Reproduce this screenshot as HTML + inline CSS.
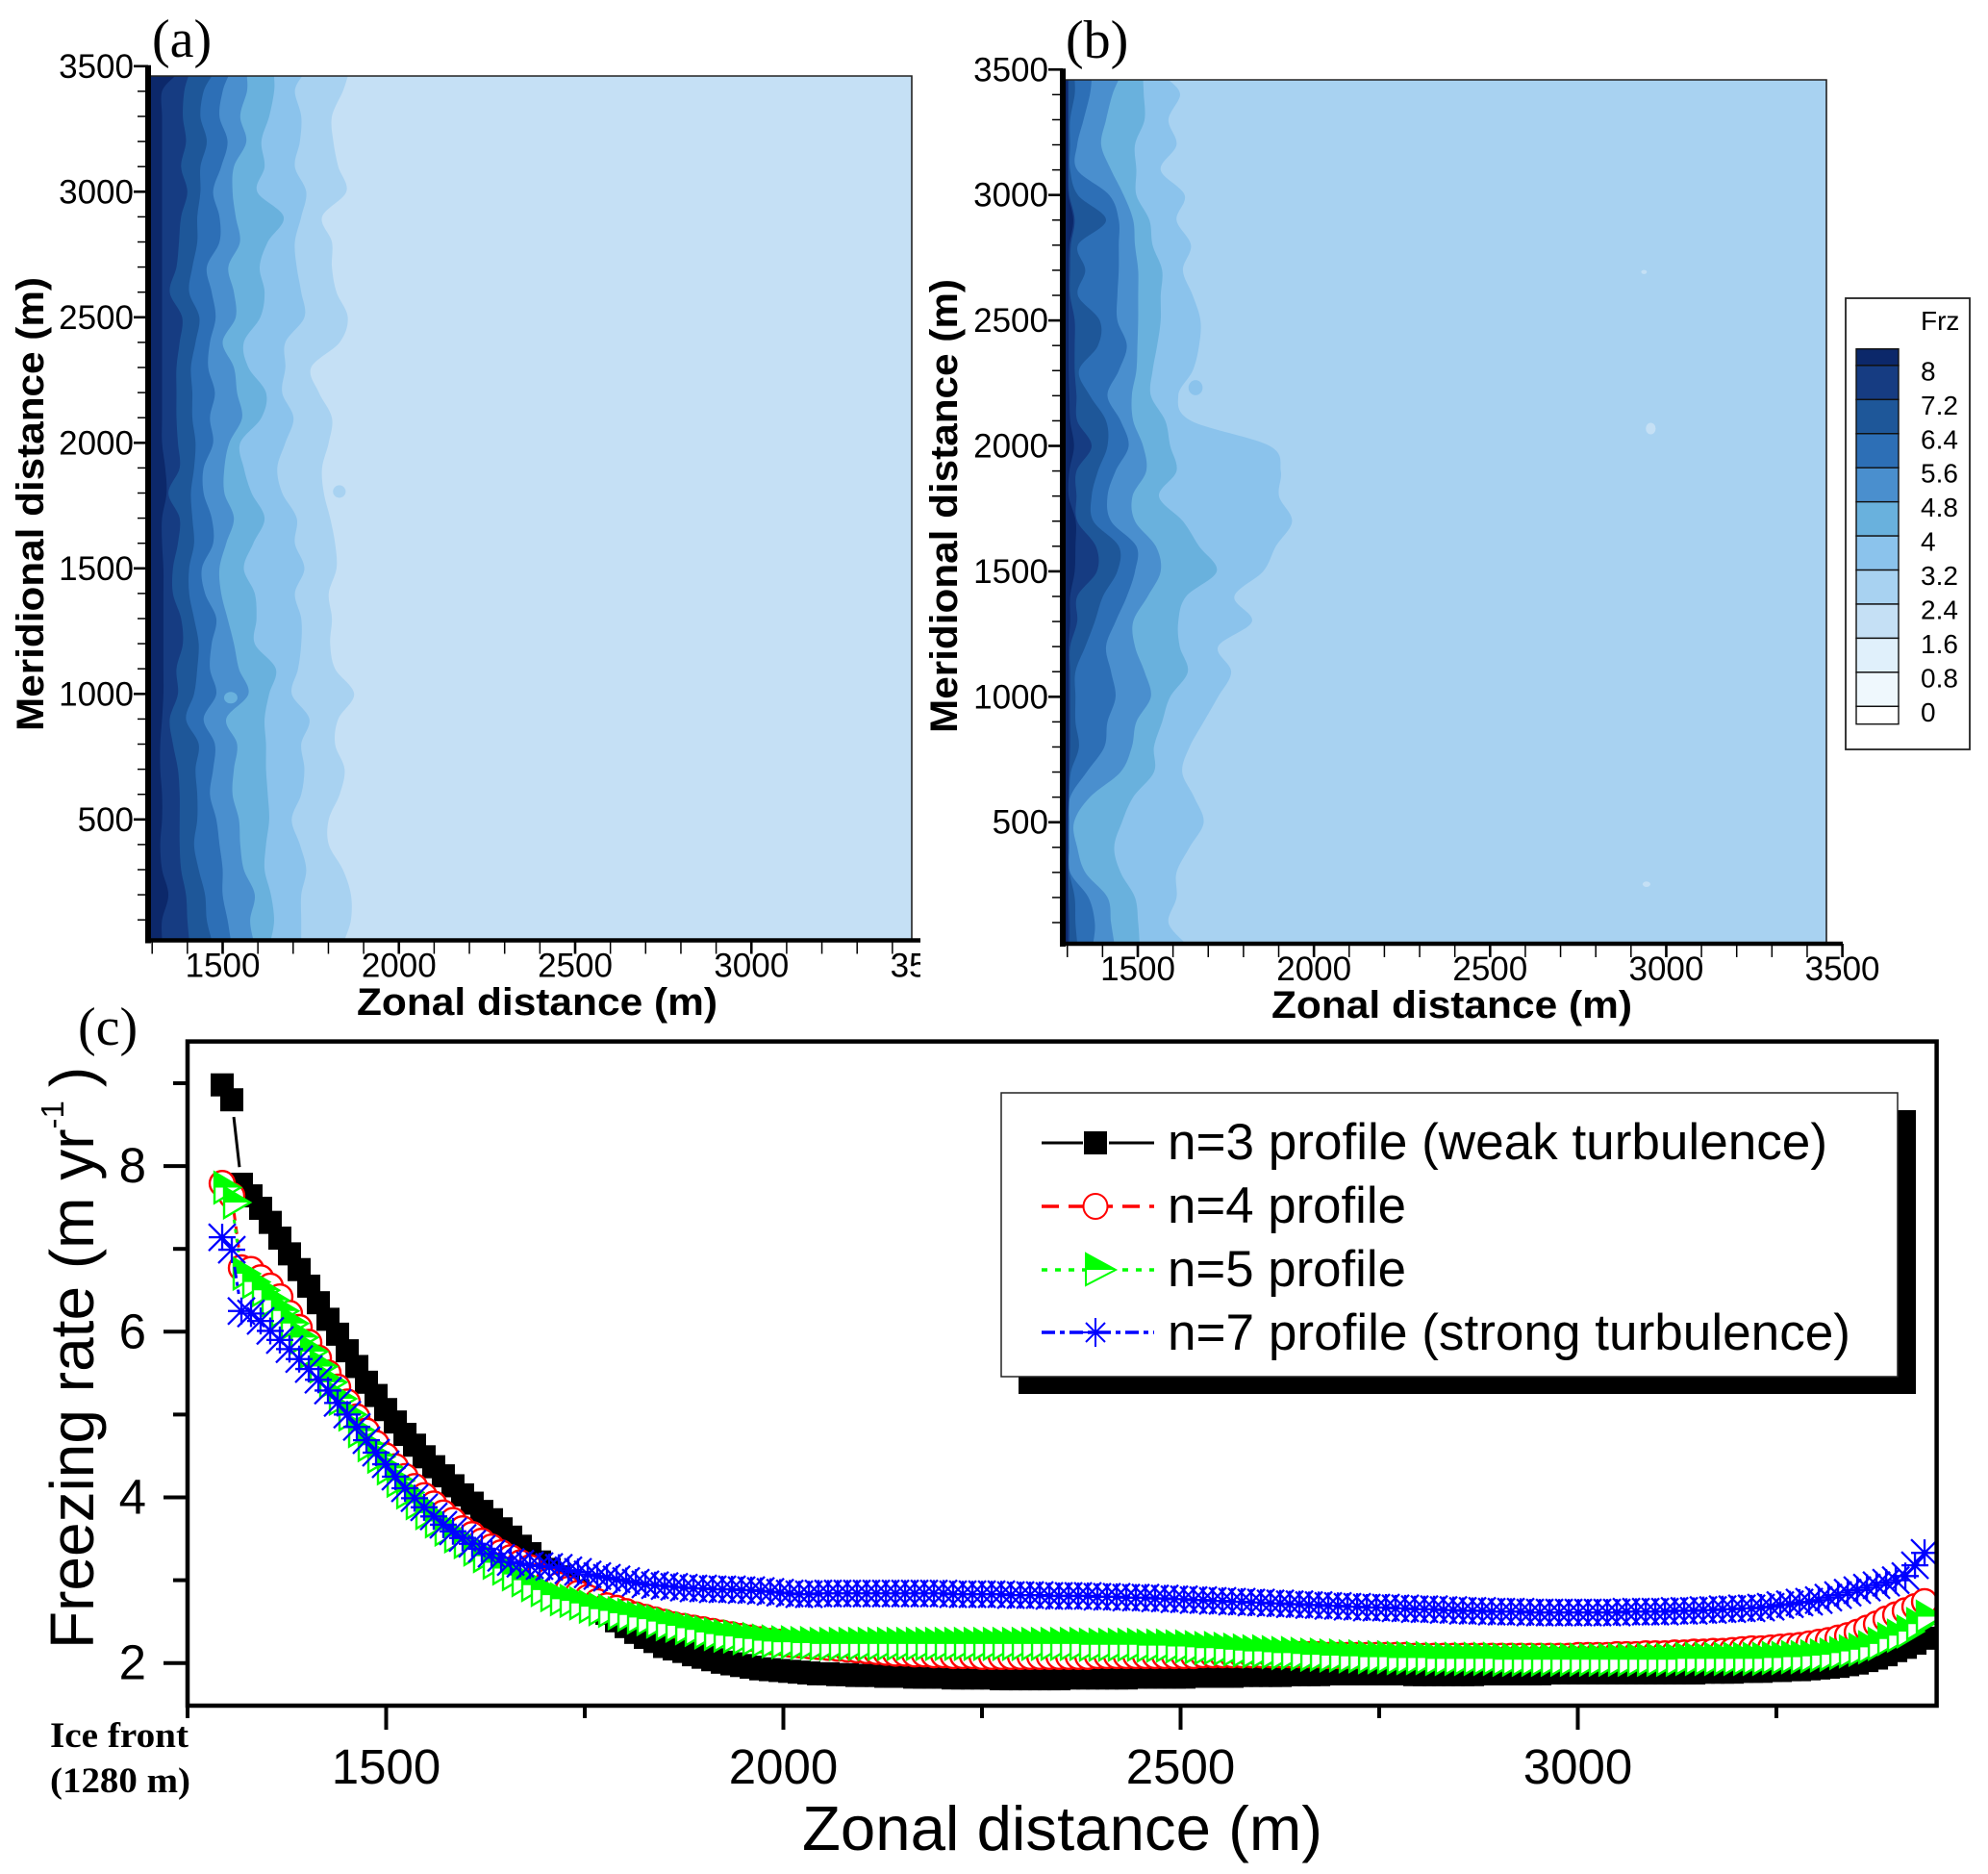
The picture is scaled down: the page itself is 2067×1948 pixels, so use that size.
<!DOCTYPE html>
<html lang="en">
<head>
<meta charset="utf-8">
<title>Freezing rate contours and profiles</title>
<style>
html,body{margin:0;padding:0;background:#fff;}
svg{display:block;}
text{font-family:"Liberation Sans",sans-serif;fill:#000;}
.serif{font-family:"Liberation Serif",serif;}
.ttl{font-weight:bold;font-size:40px;}
</style>
</head>
<body>
<svg id="fig" xmlns="http://www.w3.org/2000/svg" width="2067" height="1948" viewBox="0 0 2067 1948">
  <defs>
    <clipPath id="clipA"><rect x="154" y="79" width="794" height="899"/></clipPath>
    <clipPath id="clipB"><rect x="1105" y="83" width="794" height="898"/></clipPath>
    <clipPath id="clipLabelA"><rect x="130" y="980" width="827" height="50"/></clipPath>
    <clipPath id="clipC"><rect x="195" y="1082" width="1817" height="690"/></clipPath>
  </defs>
  <rect x="0" y="0" width="2067" height="1948" fill="#fff"/>

  <g id="panelA"></g>
  <text class="serif" x="158" y="59" font-size="56">(a)</text>
  <text class="ttl" transform="translate(45,760) rotate(-90)" textLength="472" lengthAdjust="spacingAndGlyphs">Meridional distance (m)</text>
  <text class="ttl" x="371" y="1055" textLength="375" lengthAdjust="spacingAndGlyphs">Zonal distance (m)</text>

  <g id="panelB"></g>
  <text class="serif" x="1108" y="60" font-size="56">(b)</text>
  <text class="ttl" transform="translate(995,762) rotate(-90)" textLength="472" lengthAdjust="spacingAndGlyphs">Meridional distance (m)</text>
  <text class="ttl" x="1322" y="1058" textLength="375" lengthAdjust="spacingAndGlyphs">Zonal distance (m)</text>

  <g>
    <rect x="1919" y="310" width="129" height="469" fill="#fff" stroke="#222" stroke-width="1.8"/>
    <text x="1997" y="343" font-size="28">Frz</text>
    <g id="colorbar"></g>
  </g>

  <text class="serif" x="81" y="1086" font-size="56">(c)</text>
  <g id="panelC"></g>
  <text transform="translate(97,1714) rotate(-90)" font-size="64">Freezing rate (m yr<tspan font-size="33" dy="-31">-1</tspan><tspan dy="31" dx="14">)</tspan></text>
  <text x="834" y="1923" font-size="65" textLength="541" lengthAdjust="spacingAndGlyphs">Zonal distance (m)</text>
  <text class="serif" x="52" y="1816" font-size="37" font-weight="bold" textLength="144" lengthAdjust="spacingAndGlyphs">Ice front</text>
  <text class="serif" x="52" y="1863" font-size="37" font-weight="bold" textLength="146" lengthAdjust="spacingAndGlyphs">(1280 m)</text>

  <g>
    <rect x="1059" y="1154" width="933" height="295" fill="#000"/>
    <rect x="1041" y="1136" width="932" height="295" fill="#fff" stroke="#222" stroke-width="1.5"/>
    <g>
      <line x1="1083" y1="1188" x2="1126" y2="1188" stroke="#000" stroke-width="3"/>
      <line x1="1153" y1="1188" x2="1200" y2="1188" stroke="#000" stroke-width="3"/>
      <rect x="1127" y="1176" width="24" height="24" fill="#000"/>
      <text x="1214" y="1205" font-size="53" textLength="686" lengthAdjust="spacingAndGlyphs">n=3 profile (weak turbulence)</text>
    </g>
    <g>
      <line x1="1083" y1="1254" x2="1200" y2="1254" stroke="#f00" stroke-width="3.5" stroke-dasharray="18 10"/>
      <ellipse cx="1139" cy="1254" rx="12.5" ry="13" fill="#fff" stroke="#f00" stroke-width="2"/>
      <text x="1214" y="1271" font-size="53" textLength="248" lengthAdjust="spacingAndGlyphs">n=4 profile</text>
    </g>
    <g>
      <line x1="1083" y1="1320" x2="1200" y2="1320" stroke="#0f0" stroke-width="3.5" stroke-dasharray="6 8"/>
      <polygon points="1129,1303 1160,1320 1129,1336" fill="#fff" stroke="#0f0" stroke-width="2"/>
      <polygon points="1129,1303 1160,1320 1129,1320" fill="#0f0"/>
      <text x="1214" y="1337" font-size="53" textLength="248" lengthAdjust="spacingAndGlyphs">n=5 profile</text>
    </g>
    <g>
      <line x1="1083" y1="1385" x2="1200" y2="1385" stroke="#00f" stroke-width="3.5" stroke-dasharray="14 5 5 5"/>
      <path d="M1139 1370V1400M1124 1385H1154M1129 1375L1149 1395M1129 1395L1149 1375" fill="none" stroke="#00f" stroke-width="2"/>
      <text x="1214" y="1403" font-size="53" textLength="710" lengthAdjust="spacingAndGlyphs">n=7 profile (strong turbulence)</text>
    </g>
  </g>
</svg>

<script>
/* ---------- Contour panels: data ---------- */
const meridionalRows = [3460,3400,3300,3200,3100,3000,2900,2800,2700,2600,2500,2400,2300,2200,2100,2000,1900,1800,1700,1600,1500,1400,1300,1200,1100,1000,900,800,700,600,500,400,300,200,100,20];
const bandColors = ['#0c286a','#163c82','#1e5799','#2d6fb6','#4a8fce','#69b1dd','#8bc3ec','#a8d2f1','#c5e0f5','#e0f0fb','#eff8fd','#ffffff'];

/* zonal position (m) of each contour (8, 7.2, 6.4, 5.6, 4.8, 4, 3.2, 2.4 levels) per row */
const panelAContours = [
[1364,1403,1469,1516,1569,1646,1725,1855],
[1328,1391,1446,1500,1569,1646,1705,1841],
[1328,1387,1437,1491,1550,1632,1723,1810],
[1328,1396,1455,1514,1567,1610,1719,1814],
[1328,1382,1437,1496,1532,1619,1705,1828],
[1328,1400,1437,1473,1528,1598,1737,1851],
[1328,1382,1428,1491,1537,1673,1723,1782],
[1328,1376,1428,1491,1549,1628,1705,1810],
[1328,1369,1414,1455,1516,1605,1710,1810],
[1328,1350,1405,1469,1532,1619,1723,1823],
[1328,1385,1434,1480,1537,1607,1732,1855],
[1328,1378,1423,1464,1500,1560,1678,1832],
[1328,1369,1410,1459,1532,1573,1678,1751],
[1328,1369,1414,1478,1541,1623,1669,1773],
[1328,1369,1414,1464,1555,1610,1701,1810],
[1328,1373,1423,1473,1519,1550,1678,1801],
[1337,1378,1419,1446,1505,1560,1655,1782],
[1341,1346,1410,1446,1505,1582,1669,1787],
[1328,1378,1414,1469,1532,1619,1710,1805],
[1328,1373,1419,1473,1510,1587,1705,1819],
[1332,1359,1405,1441,1491,1560,1732,1823],
[1332,1359,1405,1450,1496,1591,1705,1801],
[1332,1382,1419,1482,1514,1596,1723,1810],
[1332,1387,1432,1469,1532,1591,1723,1805],
[1332,1369,1428,1464,1546,1651,1714,1819],
[1332,1373,1419,1482,1573,1632,1696,1873],
[1328,1350,1396,1446,1510,1619,1746,1828],
[1323,1359,1432,1478,1541,1623,1723,1819],
[1323,1373,1423,1473,1532,1623,1732,1846],
[1328,1378,1428,1464,1528,1628,1723,1832],
[1328,1378,1428,1482,1546,1632,1696,1801],
[1323,1378,1419,1491,1550,1623,1719,1801],
[1328,1382,1432,1500,1560,1619,1737,1841],
[1346,1396,1450,1500,1591,1637,1723,1864],
[1328,1400,1455,1514,1578,1646,1723,1864],
[1328,1405,1469,1523,1587,1637,1723,1846]
];
/* zonal position (m) of each contour (8 ... 3.2 levels) per row */
const panelBContours = [
[1301,1304,1321,1369,1446,1515,1587],
[1301,1304,1321,1364,1428,1517,1620],
[1301,1304,1308,1346,1410,1519,1587],
[1301,1304,1308,1328,1396,1492,1610],
[1301,1304,1308,1328,1424,1496,1565],
[1303,1306,1330,1419,1460,1496,1633],
[1317,1321,1410,1446,1487,1533,1610],
[1306,1310,1330,1446,1492,1542,1651],
[1304,1308,1351,1446,1501,1569,1628],
[1304,1308,1330,1442,1501,1565,1656],
[1304,1321,1392,1442,1501,1565,1678],
[1304,1321,1387,1469,1499,1555,1674],
[1304,1321,1333,1446,1496,1542,1656],
[1306,1326,1364,1414,1483,1537,1615],
[1308,1328,1410,1451,1487,1578,1651],
[1319,1369,1414,1474,1515,1592,1874],
[1306,1326,1387,1437,1524,1610,1906],
[1304,1326,1369,1414,1485,1560,1901],
[1324,1328,1374,1424,1492,1628,1938],
[1323,1381,1446,1496,1551,1674,1892],
[1321,1384,1442,1492,1565,1724,1856],
[1308,1328,1401,1469,1528,1637,1774],
[1308,1328,1378,1437,1487,1615,1824],
[1304,1308,1351,1410,1492,1619,1728],
[1304,1308,1323,1424,1519,1642,1765],
[1304,1308,1323,1437,1537,1592,1728],
[1304,1308,1323,1414,1496,1569,1687],
[1304,1308,1333,1405,1483,1546,1647],
[1304,1306,1310,1355,1451,1546,1626],
[1303,1304,1306,1308,1364,1487,1660],
[1301,1303,1304,1306,1319,1455,1687],
[1301,1303,1304,1306,1328,1433,1647],
[1301,1303,1306,1308,1351,1451,1610],
[1301,1304,1321,1360,1414,1492,1610],
[1301,1306,1323,1378,1424,1501,1587],
[1301,1306,1328,1374,1433,1505,1633]
];
const panelBEdgeMeridional = [3300,3200,2800,2400,2000,1500,1000,500,100];
const panelBEdgeZonal = [3490,3484,3470,3462,3460,3472,3484,3484,3490];
/* isolated patches: zonal, meridional, half-width m, half-height m, colour index */
const panelAPatches = [[1831,1806,18,25,7],[1523,985,19,23,5]];
const panelBPatches = [[2956,2069,14,23,8],[2944,253,11,11,8],[2937,2693,8,8,8],[1710,2247,14,19,7],[1664,2232,20,30,6]];
const meridionalTickLabels = [3500,3000,2500,2000,1500,1000,500];
const panelZonalTickLabels = [1500,2000,2500,3000,3500];

/* ---------- Colour bar: data ---------- */
const frzLevels = [8,7.2,6.4,5.6,4.8,4,3.2,2.4,1.6,0.8,0];

/* ---------- Panel (c): data ---------- */
const zonalDistance = [
1293.6,1305.7,1317.8,1329.9,1342.0,1354.1,1366.2,1378.3,1390.5,1402.6,
1414.7,1426.8,1438.9,1451.0,1463.1,1475.2,1487.3,1499.4,1511.6,1523.7,
1535.7,1547.8,1559.9,1572.0,1584.1,1596.2,1608.3,1620.4,1632.6,1644.7,
1656.8,1668.9,1681.0,1693.1,1705.2,1717.3,1729.4,1741.5,1753.7,1765.8,
1777.9,1790.0,1802.1,1814.2,1826.3,1838.4,1850.5,1862.6,1874.8,1886.9,
1899.0,1911.1,1923.2,1935.3,1947.4,1959.5,1971.6,1983.7,1995.9,2008.0,
2020.0,2032.1,2044.2,2056.3,2068.4,2080.5,2092.6,2104.7,2116.9,2129.0,
2141.1,2153.2,2165.3,2177.4,2189.5,2201.6,2213.7,2225.8,2238.0,2250.1,
2262.2,2274.3,2286.4,2298.5,2310.6,2322.7,2334.8,2346.9,2359.1,2371.2,
2383.2,2395.3,2407.4,2419.5,2431.6,2443.7,2455.8,2467.9,2480.1,2492.2,
2504.3,2516.4,2528.5,2540.6,2552.7,2564.8,2576.9,2589.0,2601.2,2613.3,
2625.4,2637.5,2649.6,2661.7,2673.8,2685.9,2698.0,2710.1,2722.3,2734.4,
2746.4,2758.5,2770.6,2782.7,2794.8,2806.9,2819.0,2831.1,2843.3,2855.4,
2867.5,2879.6,2891.7,2903.8,2915.9,2928.0,2940.1,2952.2,2964.4,2976.5,
2988.6,3000.7,3012.8,3024.9,3037.0,3049.1,3061.2,3073.3,3085.5,3097.6,
3109.7,3121.8,3133.9,3146.0,3158.1,3170.2,3182.3,3194.4,3206.6,3218.7,
3230.7,3242.8,3254.9,3267.0,3279.1,3291.2,3303.3,3315.4,3327.6,3339.7,
3351.8,3363.9,3376.0,3388.1,3400.2,3412.3,3424.4,3436.5];
const freezingN3 = [
8.98,8.80,7.78,7.64,7.49,7.32,7.13,6.94,6.75,6.55,
6.35,6.15,5.97,5.77,5.58,5.39,5.23,5.06,4.91,4.76,
4.63,4.49,4.37,4.26,4.14,4.03,3.93,3.83,3.73,3.62,
3.52,3.41,3.32,3.22,3.13,3.04,2.96,2.87,2.79,2.71,
2.60,2.51,2.44,2.37,2.31,2.26,2.20,2.17,2.14,2.10,
2.07,2.04,2.01,1.99,1.97,1.95,1.93,1.92,1.91,1.90,
1.89,1.88,1.87,1.87,1.86,1.86,1.85,1.85,1.85,1.84,
1.84,1.84,1.83,1.83,1.83,1.83,1.82,1.82,1.82,1.82,
1.82,1.81,1.81,1.81,1.81,1.81,1.81,1.81,1.82,1.82,
1.82,1.82,1.82,1.82,1.82,1.83,1.83,1.83,1.83,1.83,
1.83,1.84,1.84,1.84,1.84,1.84,1.85,1.85,1.85,1.85,
1.85,1.86,1.86,1.86,1.86,1.87,1.87,1.87,1.87,1.87,
1.87,1.87,1.87,1.87,1.86,1.86,1.86,1.86,1.86,1.86,
1.86,1.87,1.87,1.87,1.87,1.87,1.87,1.87,1.88,1.88,
1.88,1.88,1.88,1.88,1.88,1.88,1.88,1.88,1.88,1.88,
1.88,1.88,1.88,1.88,1.89,1.89,1.89,1.89,1.90,1.90,
1.90,1.91,1.91,1.92,1.92,1.93,1.94,1.95,1.96,1.98,
2.00,2.03,2.06,2.10,2.15,2.19,2.24,2.30];
const freezingN4 = [
7.79,7.64,6.77,6.75,6.65,6.55,6.42,6.22,6.05,5.87,
5.68,5.50,5.33,5.15,4.97,4.80,4.65,4.50,4.37,4.25,
4.13,4.02,3.92,3.81,3.72,3.62,3.55,3.47,3.40,3.33,
3.27,3.21,3.15,3.05,3.00,2.94,2.89,2.84,2.79,2.74,
2.69,2.66,2.62,2.58,2.55,2.52,2.49,2.46,2.44,2.42,
2.40,2.38,2.36,2.34,2.32,2.30,2.28,2.26,2.25,2.23,
2.22,2.21,2.20,2.19,2.18,2.17,2.16,2.15,2.14,2.13,
2.12,2.12,2.11,2.11,2.10,2.10,2.09,2.09,2.09,2.08,
2.08,2.08,2.08,2.08,2.08,2.08,2.08,2.08,2.08,2.08,
2.08,2.09,2.09,2.09,2.09,2.09,2.09,2.09,2.09,2.09,
2.09,2.09,2.10,2.10,2.10,2.10,2.10,2.10,2.10,2.10,
2.10,2.10,2.10,2.10,2.10,2.09,2.09,2.09,2.09,2.09,
2.09,2.09,2.09,2.09,2.08,2.08,2.08,2.08,2.08,2.08,
2.08,2.08,2.08,2.08,2.08,2.08,2.08,2.08,2.08,2.08,
2.08,2.09,2.09,2.09,2.09,2.10,2.10,2.10,2.11,2.11,
2.11,2.12,2.12,2.13,2.13,2.14,2.14,2.15,2.16,2.17,
2.17,2.18,2.19,2.20,2.21,2.23,2.25,2.27,2.30,2.33,
2.37,2.42,2.47,2.53,2.58,2.63,2.68,2.74];
const freezingN5 = [
7.74,7.56,6.70,6.60,6.50,6.38,6.25,6.10,5.93,5.76,
5.58,5.39,5.19,5.00,4.80,4.63,4.49,4.35,4.20,4.06,
3.93,3.81,3.71,3.61,3.53,3.46,3.37,3.29,3.21,3.14,
3.07,3.00,2.94,2.88,2.82,2.77,2.75,2.72,2.68,2.65,
2.63,2.60,2.58,2.55,2.53,2.50,2.47,2.45,2.42,2.40,
2.37,2.35,2.33,2.32,2.30,2.29,2.27,2.26,2.25,2.25,
2.24,2.24,2.23,2.23,2.23,2.23,2.23,2.23,2.23,2.23,
2.23,2.23,2.23,2.23,2.23,2.23,2.23,2.23,2.23,2.23,
2.23,2.23,2.23,2.23,2.23,2.23,2.23,2.23,2.23,2.23,
2.22,2.22,2.22,2.22,2.22,2.22,2.21,2.21,2.21,2.20,
2.20,2.19,2.18,2.18,2.17,2.16,2.15,2.14,2.14,2.13,
2.12,2.12,2.11,2.10,2.10,2.09,2.09,2.08,2.08,2.07,
2.07,2.07,2.06,2.06,2.06,2.06,2.05,2.05,2.05,2.05,
2.05,2.05,2.05,2.04,2.04,2.04,2.04,2.04,2.04,2.04,
2.04,2.04,2.04,2.04,2.04,2.04,2.04,2.04,2.04,2.04,
2.04,2.04,2.05,2.05,2.05,2.05,2.05,2.05,2.05,2.05,
2.05,2.06,2.06,2.07,2.07,2.08,2.09,2.10,2.12,2.14,
2.16,2.19,2.23,2.29,2.33,2.38,2.47,2.56];
const freezingN7 = [
7.14,6.99,6.25,6.22,6.13,6.01,5.90,5.79,5.67,5.55,
5.42,5.29,5.14,5.00,4.85,4.69,4.54,4.40,4.25,4.11,
3.99,3.88,3.77,3.67,3.59,3.51,3.44,3.38,3.32,3.27,
3.22,3.20,3.18,3.17,3.16,3.15,3.12,3.10,3.07,3.05,
3.03,3.01,2.99,2.97,2.95,2.94,2.93,2.92,2.91,2.90,
2.90,2.89,2.89,2.89,2.88,2.88,2.87,2.86,2.85,2.84,
2.83,2.83,2.84,2.84,2.84,2.84,2.84,2.84,2.84,2.84,
2.84,2.84,2.84,2.84,2.84,2.84,2.83,2.83,2.83,2.83,
2.83,2.83,2.82,2.82,2.82,2.82,2.81,2.81,2.81,2.81,
2.81,2.80,2.80,2.80,2.79,2.79,2.79,2.78,2.78,2.77,
2.77,2.76,2.76,2.75,2.75,2.74,2.74,2.73,2.73,2.72,
2.72,2.71,2.71,2.70,2.70,2.69,2.69,2.68,2.68,2.67,
2.67,2.67,2.66,2.66,2.65,2.65,2.65,2.64,2.64,2.63,
2.63,2.63,2.62,2.62,2.62,2.62,2.61,2.61,2.61,2.61,
2.61,2.61,2.61,2.61,2.61,2.61,2.62,2.62,2.62,2.62,
2.62,2.63,2.63,2.63,2.64,2.64,2.65,2.65,2.66,2.66,
2.67,2.68,2.70,2.71,2.73,2.74,2.76,2.79,2.82,2.85,
2.88,2.91,2.94,2.97,3.00,3.05,3.18,3.33];
const freezingMajorTicks = [2,4,6,8];
const freezingMinorTicks = [3,5,7,9];
const zonalMajorTicks = [1500,2000,2500,3000];
const zonalMinorTicks = [1250,1750,2250,2750,3250];

/* ---------- Helpers ---------- */
const NS = 'http://www.w3.org/2000/svg';
function make(tag, attrs, parent) {
  const el = document.createElementNS(NS, tag);
  for (const k in attrs) el.setAttribute(k, attrs[k]);
  parent.appendChild(el);
  return el;
}
function smoothCurve(pts) {
  let d = '';
  for (let i = 0; i < pts.length - 1; i++) {
    const p0 = pts[Math.max(i - 1, 0)], p1 = pts[i], p2 = pts[i + 1], p3 = pts[Math.min(i + 2, pts.length - 1)];
    d += 'C' + (p1[0] + (p2[0] - p0[0]) / 6).toFixed(1) + ' ' + (p1[1] + (p2[1] - p0[1]) / 6).toFixed(1) + ' ' +
         (p2[0] - (p3[0] - p1[0]) / 6).toFixed(1) + ' ' + (p2[1] - (p3[1] - p1[1]) / 6).toFixed(1) + ' ' +
         p2[0].toFixed(1) + ' ' + p2[1].toFixed(1);
  }
  return d;
}

/* ---------- Contour panel renderer ---------- */
function drawPanel(g, cfg) {
  const xOf = cfg.xOf, yOf = cfg.yOf;
  const field = make('g', {'clip-path': 'url(#' + cfg.clip + ')'}, g);
  
  

  const base = make('rect', {x: cfg.left, y: cfg.top, width: cfg.right - cfg.left, height: cfg.bottom - cfg.top, fill: bandColors[cfg.contours[0].length]}, field);
  
  

  if (cfg.edgeM) {
    const pts = [[cfg.right, yOf(cfg.edgeM[0])]];
    cfg.edgeM.forEach(function (m, i) { pts.push([xOf(cfg.edgeZ[i]), yOf(m)]); });
    pts.push([cfg.right, yOf(cfg.edgeM[cfg.edgeM.length - 1])]);
    const edge = make('polygon', {points: pts.map(function (p) { return p.join(','); }).join(' '), fill: bandColors[6]}, field);
    
    
  }

  const n = cfg.contours[0].length;
  for (let c = n - 1; c >= 0; c--) {
    const pts = [[xOf(cfg.contours[0][c]), cfg.top]];
    meridionalRows.forEach(function (m, r) { pts.push([xOf(cfg.contours[r][c]), yOf(m)]); });
    pts.push([xOf(cfg.contours[meridionalRows.length - 1][c]), cfg.bottom]);
    const d = 'M' + cfg.left + ' ' + cfg.top + 'L' + pts[0][0].toFixed(1) + ' ' + pts[0][1].toFixed(1) + smoothCurve(pts) + 'L' + cfg.left + ' ' + cfg.bottom + 'Z';
    const band = make('path', {d: d, fill: bandColors[c]}, field);
    
    
  }
  cfg.patches.forEach(function (p) {
    const e = make('ellipse', {cx: xOf(p[0]), cy: yOf(p[1]), rx: Math.abs(xOf(p[0] + p[2]) - xOf(p[0])), ry: Math.abs(yOf(p[1] + p[3]) - yOf(p[1])), fill: bandColors[p[4]]}, field);
    
    
  });

  /* frame */
  const thin = make('path', {d: 'M' + cfg.left + ' ' + cfg.top + 'H' + cfg.right + 'V' + cfg.bottom, fill: 'none', stroke: '#222', 'stroke-width': 1.6}, g);
  
  
  const yAxis = make('line', {x1: cfg.left, y1: cfg.axisTop - 1, x2: cfg.left, y2: cfg.bottom + 3, stroke: '#000', 'stroke-width': 6}, g);
  
  
  const xAxis = make('line', {x1: cfg.left - 3, y1: cfg.bottom, x2: cfg.axisRight, y2: cfg.bottom, stroke: '#000', 'stroke-width': 4.5}, g);
  
  

  /* y ticks */
  for (let m = 100; m <= 3500; m += 100) {
    const major = meridionalTickLabels.indexOf(m) >= 0;
    const t = make('line', {x1: cfg.left - (major ? 15 : 11), y1: yOf(m), x2: cfg.left, y2: yOf(m), stroke: '#000', 'stroke-width': major ? 2.6 : 1.5}, g);
    
    
  }
  meridionalTickLabels.forEach(function (m) {
    const t = make('text', {x: cfg.left - 15, y: yOf(m) + 12, 'font-size': 35, 'text-anchor': 'end'}, g);
    t.textContent = m;
    
    
  });
  /* x ticks */
  for (let z = 1300; z <= cfg.maxTick; z += 100) {
    const major = panelZonalTickLabels.indexOf(z) >= 0;
    const t = make('line', {x1: xOf(z), y1: cfg.bottom, x2: xOf(z), y2: cfg.bottom + 14, stroke: '#000', 'stroke-width': major ? 2.6 : 1.5}, g);
    
    
  }
  const labels = make('g', cfg.labelClip ? {'clip-path': 'url(#' + cfg.labelClip + ')'} : {}, g);
  
  
  panelZonalTickLabels.forEach(function (z) {
    const t = make('text', {x: xOf(z), y: cfg.bottom + 38, 'font-size': 35, 'text-anchor': 'middle'}, labels);
    t.textContent = z;
    
    
  });
}

drawPanel(document.getElementById('panelA'), {
  id: 'panel-a', contours: panelAContours, patches: panelAPatches, clip: 'clipA', labelClip: 'clipLabelA',
  xOf: function (z) { return 231.5 + (z - 1500) * 0.3665; },
  yOf: function (m) { return 68.8 + (3500 - m) * 0.261; },
  left: 154, right: 948, top: 79, bottom: 977.5, axisTop: 68.8, axisRight: 957, maxTick: 3400
});
drawPanel(document.getElementById('panelB'), {
  id: 'panel-b', contours: panelBContours, patches: panelBPatches, clip: 'clipB', labelClip: null,
  edgeM: panelBEdgeMeridional, edgeZ: panelBEdgeZonal,
  xOf: function (z) { return 1183 + (z - 1500) * 0.3663; },
  yOf: function (m) { return 72.3 + (3500 - m) * 0.2608; },
  left: 1105, right: 1899, top: 83, bottom: 981, axisTop: 72.3, axisRight: 1916, maxTick: 3500
});

/* ---------- Colour bar ---------- */
(function () {
  const g = document.getElementById('colorbar');
  const cbY = function (level) { return 734.3 - level * 44.3; };
  const edges = [362.7].concat(frzLevels.map(cbY), [752.7]);
  for (let i = 0; i < edges.length - 1; i++) {
    const r = make('rect', {x: 1930, y: edges[i], width: 44, height: edges[i + 1] - edges[i], fill: bandColors[i], stroke: '#111', 'stroke-width': 1.4}, g);
    
    
  }
  frzLevels.forEach(function (lv) {
    const t = make('text', {x: 1997, y: cbY(lv) + 15.5, 'font-size': 28}, g);
    t.textContent = String(lv);
    
    
  });
})();

/* ---------- Panel (c) ---------- */
(function () {
  const g = document.getElementById('panelC');
  const X = function (z) { return 401.5 + (z - 1500) * 0.826; };
  const Y = function (v) { return 1728.7 - (v - 2) * 86.1; };
  const plot = make('g', {'clip-path': 'url(#clipC)'}, g);
  
  

  function connect(vals, colour, dash, parent) {
    const gap = 18;
    for (let i = 0; i < vals.length - 1; i++) {
      const x1 = X(zonalDistance[i]), y1 = Y(vals[i]), x2 = X(zonalDistance[i + 1]), y2 = Y(vals[i + 1]);
      const d = Math.hypot(x2 - x1, y2 - y1);
      if (d <= 2 * gap) continue;
      const ux = (x2 - x1) / d, uy = (y2 - y1) / d;
      const attrs = {x1: x1 + ux * gap, y1: y1 + uy * gap, x2: x2 - ux * gap, y2: y2 - uy * gap, stroke: colour, 'stroke-width': 3};
      if (dash) attrs['stroke-dasharray'] = dash;
      const seg = make('line', attrs, parent);
      
      
    }
  }

  /* n=3 */
  const s3 = make('g', {}, plot);
  
  
  connect(freezingN3, '#000', null, s3);
  freezingN3.forEach(function (v, i) {
    const m = make('rect', {x: X(zonalDistance[i]) - 12, y: Y(v) - 12, width: 24, height: 24, fill: '#000'}, s3);
    
    
  });
  /* n=4 */
  const s4 = make('g', {}, plot);
  
  
  connect(freezingN4, '#f00', '8 6', s4);
  freezingN4.forEach(function (v, i) {
    const m = make('circle', {cx: X(zonalDistance[i]), cy: Y(v), r: 13, fill: '#fff', stroke: '#f00', 'stroke-width': 2.4}, s4);
    
    
  });
  /* n=5 */
  const s5 = make('g', {}, plot);
  
  
  connect(freezingN5, '#0f0', '4 6', s5);
  freezingN5.forEach(function (v, i) {
    const x = X(zonalDistance[i]), y = Y(v);
    const outline = make('polygon', {points: (x - 8) + ',' + (y - 16) + ' ' + (x + 19) + ',' + y + ' ' + (x - 8) + ',' + (y + 16), fill: '#fff', stroke: '#0f0', 'stroke-width': 2.4}, s5);
    
    
    const half = make('polygon', {points: (x - 8) + ',' + (y - 16) + ' ' + (x + 19) + ',' + y + ' ' + (x - 8) + ',' + y, fill: '#0f0'}, s5);
    
    
  });
  /* n=7 */
  const s7 = make('g', {}, plot);
  
  
  connect(freezingN7, '#00f', '12 4 4 4', s7);
  freezingN7.forEach(function (v, i) {
    const x = X(zonalDistance[i]), y = Y(v), a = 14, b = 14;
    const d = 'M' + x + ' ' + (y - a) + 'V' + (y + a) + 'M' + (x - a) + ' ' + y + 'H' + (x + a) +
      'M' + (x - b) + ' ' + (y - b) + 'L' + (x + b) + ' ' + (y + b) + 'M' + (x - b) + ' ' + (y + b) + 'L' + (x + b) + ' ' + (y - b);
    const m = make('path', {d: d, fill: 'none', stroke: '#00f', 'stroke-width': 2.3}, s7);
    
    
  });

  /* frame */
  const frame = make('rect', {x: 195, y: 1082.6, width: 1818.6, height: 690.4, fill: 'none', stroke: '#000', 'stroke-width': 4.5}, g);
  
  

  /* ticks */
  freezingMajorTicks.forEach(function (v) {
    const t = make('line', {x1: 170, y1: Y(v), x2: 195, y2: Y(v), stroke: '#000', 'stroke-width': 4}, g);
    
    
    const l = make('text', {x: 152, y: Y(v) + 17, 'font-size': 51, 'text-anchor': 'end'}, g);
    l.textContent = v;
    
    
  });
  freezingMinorTicks.forEach(function (v) {
    const t = make('line', {x1: 180, y1: Y(v), x2: 195, y2: Y(v), stroke: '#000', 'stroke-width': 4}, g);
    
    
  });
  zonalMajorTicks.forEach(function (z) {
    const t = make('line', {x1: X(z), y1: 1773, x2: X(z), y2: 1798, stroke: '#000', 'stroke-width': 4}, g);
    
    
    const l = make('text', {x: X(z), y: 1854, 'font-size': 51, 'text-anchor': 'middle'}, g);
    l.textContent = z;
    
    
  });
  zonalMinorTicks.forEach(function (z) {
    const t = make('line', {x1: X(z), y1: 1773, x2: X(z), y2: 1786, stroke: '#000', 'stroke-width': 4}, g);
    
    
  });
})();
</script>
</body>
</html>
